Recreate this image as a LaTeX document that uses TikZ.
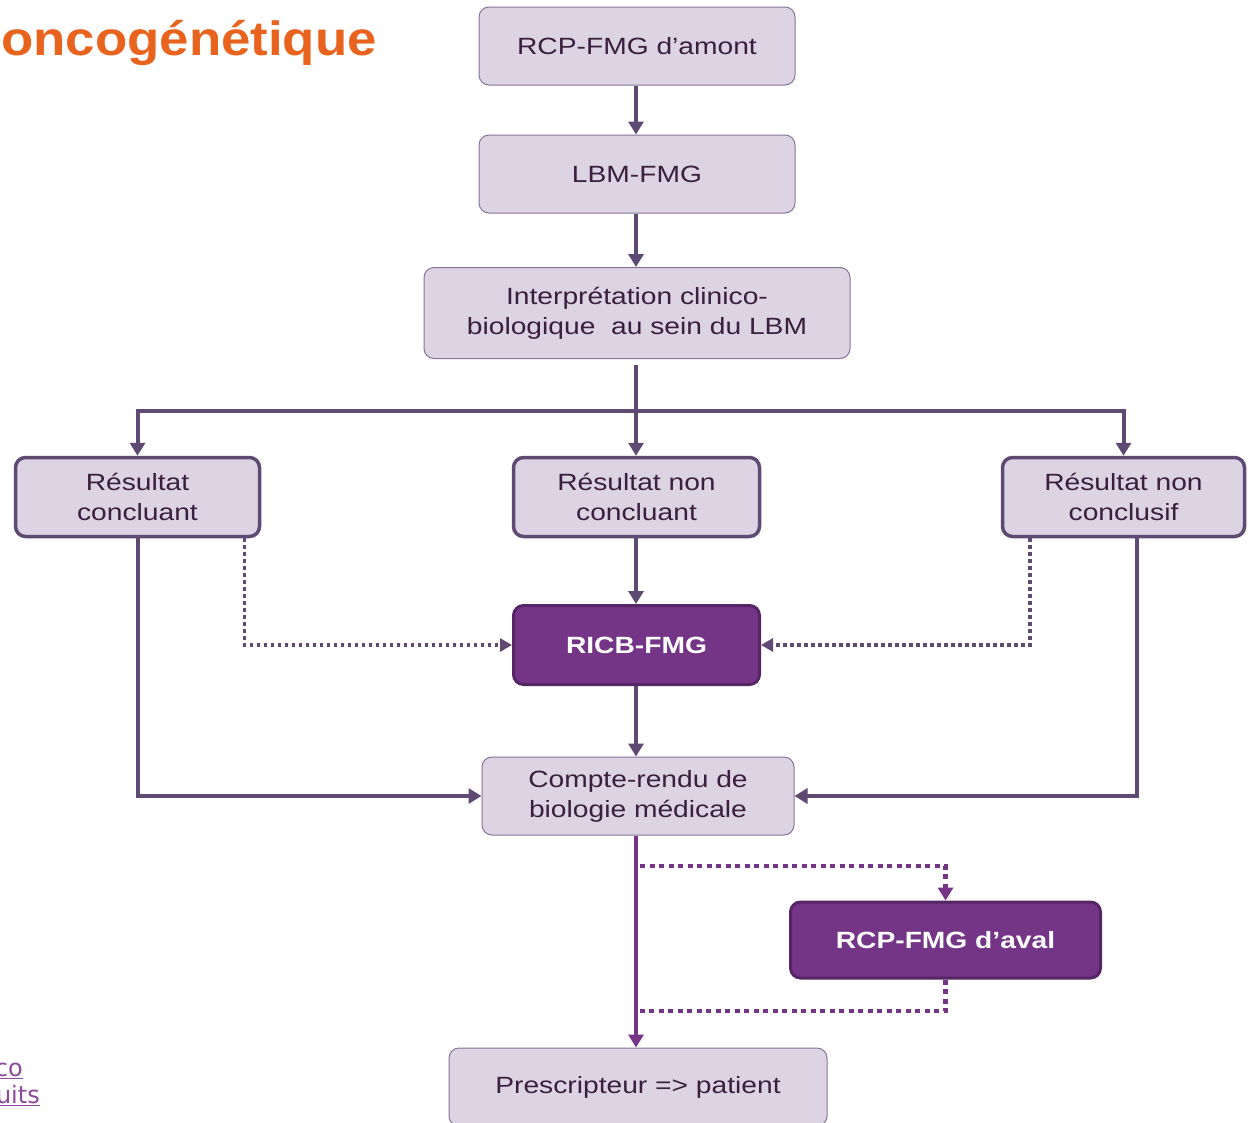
\documentclass[tikz,border=0pt]{standalone}
\usepackage{fontspec}
\setmainfont{Liberation Sans}
\newfontfamily\bx[FakeStretch=1.2]{Liberation Sans}
\newfontfamily\ttl[FakeStretch=1.1]{Liberation Sans}
\newfontfamily\lk{DejaVu Sans}
\usetikzlibrary{arrows.meta}
\definecolor{fillL}{HTML}{DCD3E3}
\definecolor{edgeL}{HTML}{85749A}
\definecolor{lnC}{HTML}{5E4A73}
\definecolor{txtC}{HTML}{3A1F3E}
\definecolor{pFill}{HTML}{743587}
\definecolor{pEdge}{HTML}{562565}
\definecolor{orangeT}{HTML}{E8641E}
\definecolor{linkC}{HTML}{8B4A9C}
\begin{document}
\begin{tikzpicture}[x=1pt,y=-1pt,
  lbox/.style={draw=edgeL, line width=1pt, fill=fillL, rounded corners=10pt, text=txtC,
    font=\bx\fontsize{23.5}{30}\selectfont, align=center, inner sep=0pt},
  tbox/.style={lbox, draw=lnC, line width=3.5pt},
  pbox/.style={draw=pEdge, line width=3pt, fill=pFill, rounded corners=10pt, text=white,
    font=\bx\bfseries\fontsize{23.5}{30}\selectfont, align=center, inner sep=0pt},
  ln/.style={draw=lnC, line width=4pt},
  arr/.style={ln, -{Triangle[length=13pt,width=15pt]}},
  dotg/.style={draw=lnC, line width=3.5pt, dash pattern=on 3.5pt off 3.5pt, -{Triangle[length=12pt,width=13pt]}},
  parr/.style={draw=pFill, line width=4pt, -{Triangle[length=13pt,width=15pt]}},
  pdot/.style={draw=pFill, line width=4.5pt, dash pattern=on 5pt off 4.5pt},
  pdotarr/.style={pdot, -{Triangle[length=13pt,width=15pt]}}
]
\useasboundingbox (0,0) rectangle (1249,1122);

% title and links
\node[anchor=base east, text=orangeT, font=\ttl\bfseries\fontsize{48}{56}\selectfont, inner sep=0pt] (title) at (377,55) {oncogénétique};
\node[anchor=base east, text=linkC, font=\lk\fontsize{24}{28}\selectfont, inner sep=0pt] (lk1) at (23,1076) {\underline{co}};
\node[anchor=base east, text=linkC, font=\lk\fontsize{24}{28}\selectfont, inner sep=0pt] (lk2) at (40,1103) {\underline{uits}};

% boxes
\node[lbox, minimum width=316, minimum height=78] (amont) at (637,46) {RCP-FMG d’amont};
\node[lbox, minimum width=316, minimum height=78] (lbm) at (637,174) {LBM-FMG};
\node[lbox, minimum width=426, minimum height=91] (interp) at (637,313) {Interprétation clinico-\\biologique\ \ au sein du LBM};
\node[tbox, minimum width=244, minimum height=79] (c) at (137.5,497) {Résultat\\concluant};
\node[tbox, minimum width=246, minimum height=79] (nc) at (636.5,497) {Résultat non\\concluant};
\node[tbox, minimum width=242, minimum height=79] (ncl) at (1123.5,497) {Résultat non\\conclusif};
\node[pbox, minimum width=246, minimum height=79] (ricb) at (636.5,645) {RICB-FMG};
\node[lbox, minimum width=312, minimum height=78] (cr) at (638,796) {Compte-rendu de\\biologie médicale};
\node[pbox, minimum width=310, minimum height=76] (aval) at (945.5,940) {RCP-FMG d’aval};
\node[lbox, minimum width=378, minimum height=78] (presc) at (638,1087) {Prescripteur => patient};

% helper coordinates
\coordinate (bus) at (636,411);
\coordinate (d1) at (640,866);
\coordinate (d2) at (640,1011);

% connectors
\draw[arr] (amont.south -| bus) -- (lbm.north -| bus);
\draw[arr] (lbm.south -| bus) -- (interp.north -| bus);
\draw[arr] ([yshift=-6]interp.south -| bus) -- (nc.north -| bus);
\draw[arr] ([xshift=1.5]bus) -| (ncl.north);
\draw[arr] ([xshift=-1.5]bus) -| (c.north);
\draw[arr] (nc.south -| bus) -- (ricb.north -| bus);
\draw[arr] (ricb.south -| bus) -- (cr.north -| bus);
\draw[arr] (c.south) |- (cr.west);
\draw[arr] ([xshift=13.5]ncl.south) |- (cr.east);
\draw[dotg] ([xshift=107]c.south) |- (ricb.west);
\draw[dotg] ([xshift=-93.5]ncl.south) |- (ricb.east);
\draw[parr] (cr.south -| bus) -- (presc.north -| bus);
\draw[pdotarr] (d1) -| (aval.north);
\draw[pdot] (aval.south) |- (d2);
\end{tikzpicture}
\end{document}
